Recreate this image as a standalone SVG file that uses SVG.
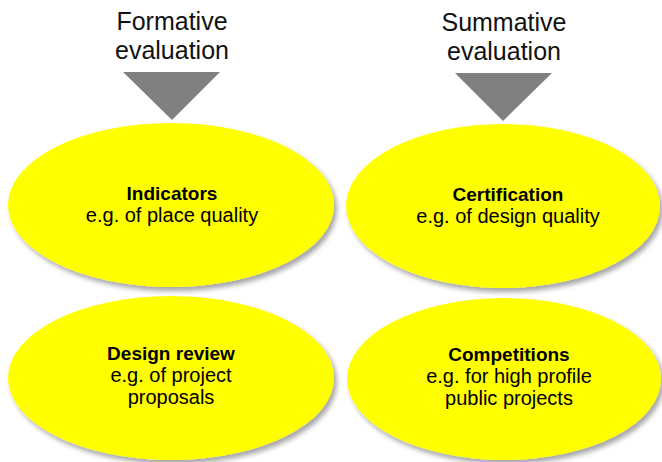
<svg xmlns="http://www.w3.org/2000/svg" width="662" height="462" viewBox="0 0 662 462">
<style>
  .ell { fill: #FFFF00; filter: url(#sh); }
  .tri { fill: #808080; }
  .title { font-family: "Liberation Sans", Arial, sans-serif; font-size: 25px; fill: #111; text-anchor: middle; }
  .b { font-family: "Liberation Sans", Arial, sans-serif; font-size: 19px; font-weight: bold; fill: #000; text-anchor: middle; }
  .t { font-family: "Liberation Sans", Arial, sans-serif; font-size: 20px; fill: #000; text-anchor: middle; }
</style>
<defs>
  <filter id="sh" x="-10%" y="-10%" width="125%" height="130%">
    <feDropShadow dx="3" dy="4" stdDeviation="2.5" flood-color="#000" flood-opacity="0.35"/>
  </filter>
</defs>
<rect width="662" height="462" fill="#ffffff"/>
<g id="formative">
  <text class="title" x="172" y="30">Formative</text>
  <text class="title" x="172" y="59">evaluation</text>
  <polygon class="tri" points="123,72 220,72 172,120"/>
</g>
<g id="summative">
  <text class="title" x="504" y="31">Summative</text>
  <text class="title" x="504" y="60">evaluation</text>
  <polygon class="tri" points="455,73 552,73 503,121"/>
</g>
<g id="connectors"></g>
<g id="indicators">
  <ellipse class="ell" cx="171" cy="205" rx="163" ry="82"/>
  <text class="b" x="172" y="200">Indicators</text>
  <text class="t" x="172" y="222">e.g. of place quality</text>
</g>
<g id="certification">
  <ellipse class="ell" cx="503" cy="206" rx="157" ry="82"/>
  <text class="b" x="508" y="201">Certification</text>
  <text class="t" x="508" y="223">e.g. of design quality</text>
</g>
<g id="design-review">
  <ellipse class="ell" cx="171" cy="378" rx="163" ry="82"/>
  <text class="b" x="171" y="360">Design review</text>
  <text class="t" x="171" y="382">e.g. of project</text>
  <text class="t" x="171" y="404">proposals</text>
</g>
<g id="competitions">
  <ellipse class="ell" cx="504" cy="379" rx="157" ry="81"/>
  <text class="b" x="509" y="361">Competitions</text>
  <text class="t" x="509" y="383">e.g. for high profile</text>
  <text class="t" x="509" y="405">public projects</text>
</g>
</svg>
